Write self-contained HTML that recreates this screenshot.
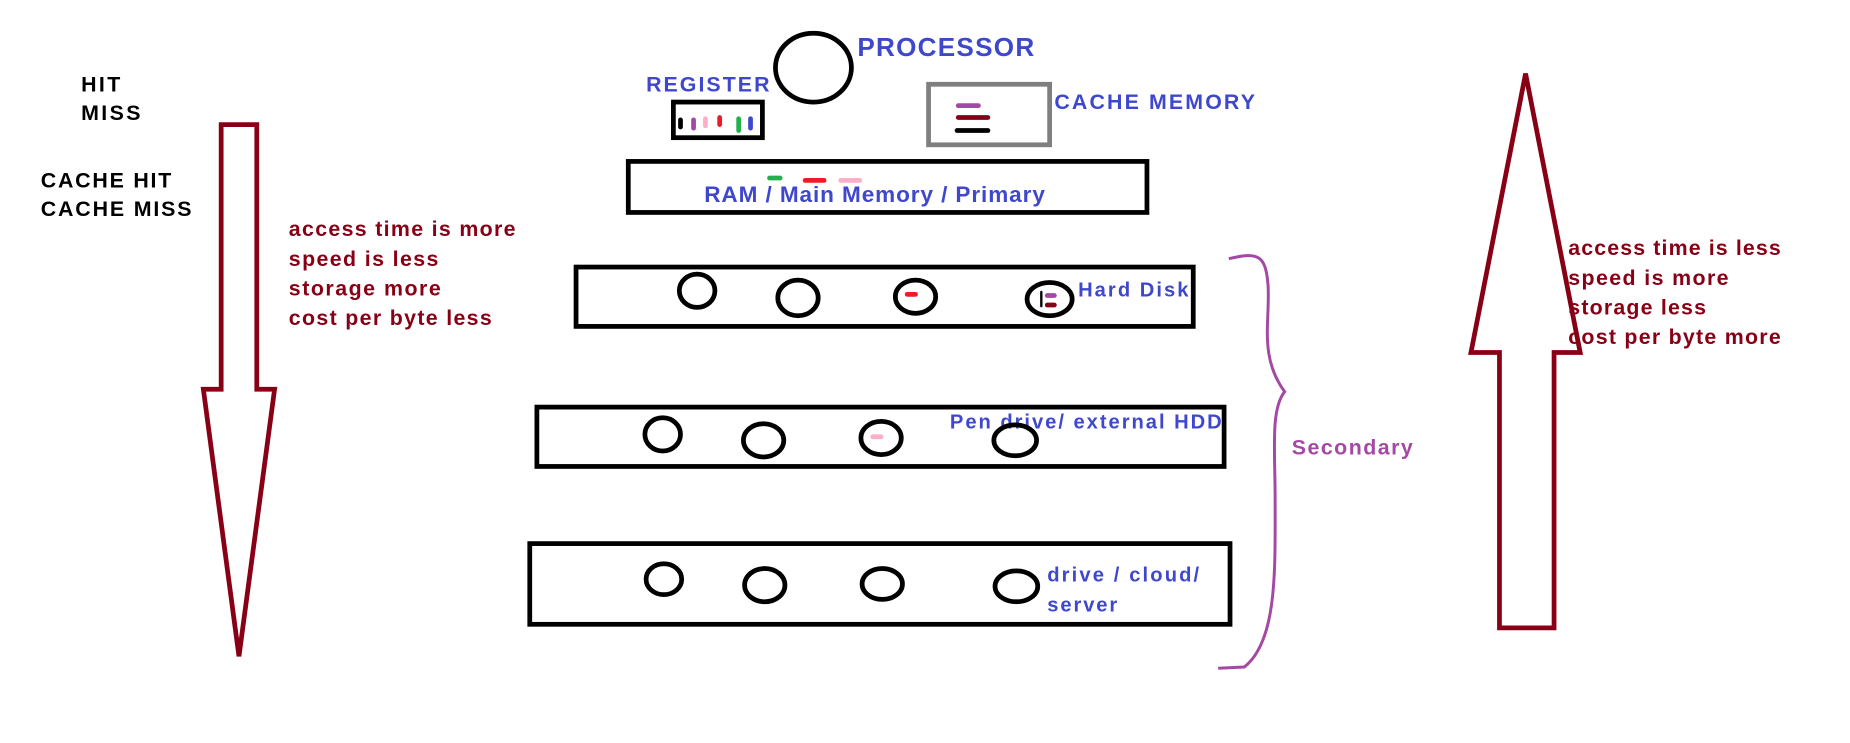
<!DOCTYPE html>
<html><head><meta charset="utf-8"><style>html,body{margin:0;padding:0;background:#fff}svg{display:block}</style></head>
<body>
<svg width="1850" height="743" viewBox="0 0 1558 626" xmlns="http://www.w3.org/2000/svg" font-family="Liberation Sans, Arial, sans-serif" font-weight="bold">
<rect width="1558" height="626" fill="#fff"/>
<g fill="#000" font-size="18" lengthAdjust="spacingAndGlyphs">
<text x="68" y="77" textLength="33">HIT</text>
<text x="68" y="101" textLength="50">MISS</text>
<text x="34" y="158" textLength="110">CACHE HIT</text>
<text x="34" y="182" textLength="127">CACHE MISS</text>
</g>
<g fill="none" stroke="#880015" stroke-width="4" stroke-linejoin="miter">
<path d="M186,105 L216,105 L216,328 L231,328 L201,553 L171,328 L186,328 Z"/>
<path d="M1285,62 L1331,297 L1309,297 L1309,529 L1263,529 L1263,297 L1239,297 Z"/>
</g>
<g fill="#880015" font-size="18">
<text x="243" y="199" textLength="191">access time is more</text>
<text x="243" y="224" textLength="126">speed is less</text>
<text x="243" y="249" textLength="128">storage more</text>
<text x="243" y="274" textLength="171">cost per byte less</text>
<text x="1321" y="215" textLength="179">access time is less</text>
<text x="1321" y="240" textLength="135">speed is more</text>
<text x="1321" y="265" textLength="116">storage less</text>
<text x="1321" y="290" textLength="179">cost per byte more</text>
</g>
<g fill="#3f48cc">
<text x="722" y="47" font-size="22" textLength="149">PROCESSOR</text>
<text x="544" y="77" font-size="18" textLength="104">REGISTER</text>
<text x="888" y="92" font-size="18" textLength="169">CACHE MEMORY</text>
<text x="593" y="170" font-size="19" textLength="287">RAM / Main Memory / Primary</text>
<text x="908" y="250" font-size="17" textLength="93">Hard Disk</text>
<text x="800" y="361" font-size="17" textLength="229">Pen drive/ external HDD</text>
<text x="882" y="490" font-size="17" textLength="128">drive / cloud/</text>
<text x="882" y="515" font-size="17" textLength="59">server</text>
</g>
<text x="1088" y="383" font-size="18" fill="#a349a4" textLength="102">Secondary</text>
<g fill="none" stroke="#000" stroke-width="4">
<ellipse cx="685" cy="57" rx="32" ry="29"/>
<rect x="567" y="86" width="75" height="30"/>
<rect x="529" y="136" width="437" height="43"/>
<rect x="485" y="225" width="520" height="50"/>
<rect x="452" y="343" width="579" height="50"/>
<rect x="446" y="458" width="590" height="68"/>
<ellipse cx="587" cy="245" rx="15" ry="14"/>
<ellipse cx="672" cy="251" rx="17" ry="15"/>
<ellipse cx="771" cy="250" rx="17" ry="14"/>
<ellipse cx="884" cy="252" rx="19" ry="14"/>
<ellipse cx="558" cy="366" rx="15" ry="14"/>
<ellipse cx="643" cy="371" rx="17" ry="14"/>
<ellipse cx="742" cy="369" rx="17" ry="14"/>
<ellipse cx="855" cy="371" rx="18" ry="13"/>
<ellipse cx="559" cy="488" rx="15" ry="13"/>
<ellipse cx="644" cy="493" rx="17" ry="14"/>
<ellipse cx="743" cy="492" rx="17" ry="13"/>
<ellipse cx="856" cy="494" rx="18" ry="13"/>
</g>
<rect x="782" y="71" width="102" height="51" fill="none" stroke="#7f7f7f" stroke-width="4"/>
<g stroke-width="4" stroke-linecap="round">
<line x1="573" y1="101" x2="573" y2="107" stroke="#000"/>
<line x1="584" y1="101" x2="584" y2="108" stroke="#a349a4"/>
<line x1="594" y1="100" x2="594" y2="106" stroke="#ffaec9"/>
<line x1="606" y1="99" x2="606" y2="105" stroke="#ed1c24"/>
<line x1="622" y1="100" x2="622" y2="110" stroke="#22b14c"/>
<line x1="632" y1="100" x2="632" y2="108" stroke="#3f48cc"/>
<line x1="807" y1="89" x2="824" y2="89" stroke="#a349a4"/>
<line x1="807" y1="99" x2="832" y2="99" stroke="#880015"/>
<line x1="806" y1="110" x2="832" y2="110" stroke="#000"/>
<line x1="648" y1="150" x2="657" y2="150" stroke="#22b14c"/>
<line x1="678" y1="152" x2="694" y2="152" stroke="#ed1c24"/>
<line x1="708" y1="152" x2="724" y2="152" stroke="#ffaec9"/>
<line x1="764" y1="248" x2="771" y2="248" stroke="#ed1c24"/>
<line x1="877" y1="246" x2="877" y2="258" stroke="#000" stroke-width="2"/>
<line x1="882" y1="249" x2="888" y2="249" stroke="#a349a4"/>
<line x1="882" y1="257" x2="888" y2="257" stroke="#880015"/>
<line x1="735" y1="368" x2="742" y2="368" stroke="#ffaec9"/>
</g>
<path d="M1035,218 C1060,212 1066,215 1068,240 C1070,270 1060,300 1082,330 C1070,345 1074,380 1074,420 C1074,480 1076,540 1048,562 L1026,563" fill="none" stroke="#a349a4" stroke-width="2.5"/>
</svg>
</body></html>
